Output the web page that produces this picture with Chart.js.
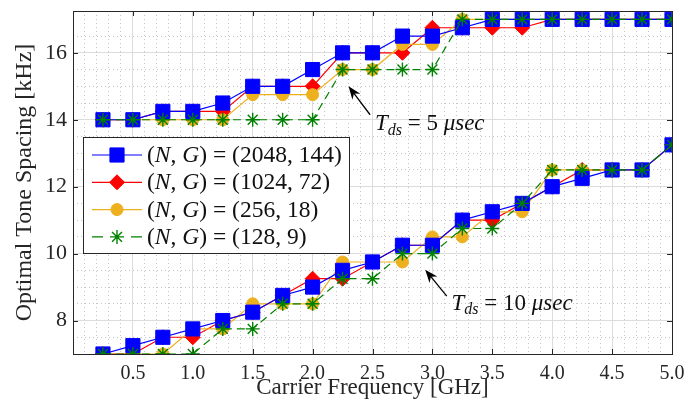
<!DOCTYPE html>
<html>
<head>
<meta charset="utf-8">
<script src="https://cdn.jsdelivr.net/npm/chart.js@4.4.0/dist/chart.umd.min.js"></script>
<style>
  html, body { margin: 0; padding: 0; background: #fff; }
  #wrap { width: 697px; height: 400px; }
</style>
</head>
<body>
<div id="wrap"><canvas id="chart" width="697" height="400"></canvas></div>
<script>
// carrier frequency samples [GHz]
const freqGHz = [0.25, 0.5, 0.75, 1, 1.25, 1.5, 1.75, 2, 2.25, 2.5, 2.75, 3, 3.25, 3.5, 3.75, 4, 4.25, 4.5, 4.75, 5];
const xTicks = [0.5, 1, 1.5, 2, 2.5, 3, 3.5, 4, 4.5, 5];
const yTicks = [8, 10, 12, 14, 16];

// legend entries (N, G)
const legendN = [2048, 1024, 256, 128];
const legendG = [144, 72, 18, 9];

// optimal tone spacing [kHz], T_ds = 5 usec
const ng2048_5us = [14, 14, 14.25, 14.25, 14.5, 15, 15, 15.5, 16, 16, 16.5, 16.5, 16.75, 17, 17, 17, 17, 17, 17, 17];
const ng1024_5us = [14, 14, 14.25, 14.25, 14.25, 15, 15, 15, 16, 16, 16, 16.75, 16.75, 16.75, 16.75, 17, 17, 17, 17, 17];
const ng256_5us  = [14, 14, 14, 14, 14, 14.75, 14.75, 14.75, 15.5, 15.5, 16.25, 16.25, 17, 17, 17, 17, 17, 17, 17, 17];
const ng128_5us  = [14, 14, 14, 14, 14, 14, 14, 14, 15.5, 15.5, 15.5, 15.5, 17, 17, 17, 17, 17, 17, 17, 17];

// optimal tone spacing [kHz], T_ds = 10 usec
const ng2048_10us = [7, 7.25, 7.5, 7.75, 8, 8.25, 8.75, 9, 9.5, 9.75, 10.25, 10.25, 11, 11.25, 11.5, 12, 12.25, 12.5, 12.5, 13.25];
const ng1024_10us = [7, 7, 7.5, 7.5, 8, 8.25, 8.75, 9.25, 9.25, 9.75, 10.25, 10.25, 11, 11, 11.5, 12, 12.5, 12.5, 12.5, 13.25];
const ng256_10us  = [7, 7, 7, 7.75, 7.75, 8.5, 8.5, 8.5, 9.75, 9.75, 9.75, 10.5, 10.5, 11.25, 11.25, 12.5, 12.5, 12.5, 12.5, 13.25];
const ng128_10us  = [7, 7, 7, 7, 7.75, 7.75, 8.5, 8.5, 9.25, 9.25, 10, 10, 10.75, 10.75, 11.5, 12.5, 12.5, 12.5, 12.5, 13.25];

const SERIF = "'Liberation Serif', 'DejaVu Serif', serif";
const INK = '#262626';

const styles = [
    { color: '#0000ff', pointStyle: 'rect', radius: 10, dash: [], order: 2 },
    { color: '#ff0000', pointStyle: 'rectRot', radius: 7.5, dash: [], order: 4 },
    { color: '#edb120', pointStyle: 'circle', radius: 6, dash: [], order: 3 },
    { color: '#008000', pointStyle: 'star', radius: 7, dash: [8, 5], order: 1 }
];

function makeSet(values, s) {
    return {
        data: values.map((v, i) => ({ x: freqGHz[i], y: v })),
        borderColor: s.color,
        backgroundColor: s.color,
        borderWidth: 1.2,
        borderDash: s.dash,
        pointStyle: s.pointStyle,
        pointRadius: s.radius,
        pointHoverRadius: s.radius,
        pointBackgroundColor: s.color,
        pointBorderColor: s.color,
        pointBorderWidth: s.pointStyle === 'star' ? 1.4 : 1,
        order: s.order,
        tension: 0,
        fill: false
    };
}

const sets5 = [ng2048_5us, ng1024_5us, ng256_5us, ng128_5us];
const sets10 = [ng2048_10us, ng1024_10us, ng256_10us, ng128_10us];
const datasets = [];
sets5.forEach((vals, i) => datasets.push(makeSet(vals, styles[i])));
sets10.forEach((vals, i) => datasets.push(makeSet(vals, styles[i])));

// box around plot with inward tick marks
const framePlugin = {
    id: 'frame',
    beforeDatasetsDraw(chart) {
        const { ctx, chartArea: a, scales } = chart;
        ctx.save();
        ctx.strokeStyle = INK;
        ctx.lineWidth = 1;
        ctx.setLineDash([]);
        ctx.strokeRect(Math.round(a.left) + 0.5, Math.round(a.top) + 0.5,
            Math.round(a.right - a.left), Math.round(a.bottom - a.top));
        ctx.beginPath();
        xTicks.forEach(v => {
            const px = Math.round(scales.x.getPixelForValue(v)) + 0.5;
            ctx.moveTo(px, a.bottom); ctx.lineTo(px, a.bottom - 5);
            ctx.moveTo(px, a.top); ctx.lineTo(px, a.top + 5);
        });
        yTicks.forEach(v => {
            const py = Math.round(scales.y.getPixelForValue(v)) + 0.5;
            ctx.moveTo(a.left, py); ctx.lineTo(a.left + 5, py);
            ctx.moveTo(a.right, py); ctx.lineTo(a.right - 5, py);
        });
        ctx.stroke();
        ctx.restore();
    }
};

// draw a run of text pieces: [text, italic, size, dy]
function drawPieces(ctx, pieces, x, y) {
    let cx = x;
    pieces.forEach(([t, it, size, dy]) => {
        ctx.font = (it ? 'italic ' : '') + size + 'px ' + SERIF;
        ctx.fillText(t, cx, y + (dy || 0));
        cx += ctx.measureText(t).width;
    });
}

const legendPlugin = {
    id: 'boxLegend',
    afterDraw(chart) {
        const ctx = chart.ctx;
        const bx = 83, by = 137, bw = 266, bh = 116;
        ctx.save();
        ctx.fillStyle = '#fff';
        ctx.fillRect(bx, by, bw, bh);
        ctx.strokeStyle = INK;
        ctx.lineWidth = 1;
        ctx.strokeRect(bx + 0.5, by + 0.5, bw, bh);
        legendN.forEach((n, i) => {
            const s = styles[i];
            const y = by + 18 + i * 27.3;
            ctx.strokeStyle = s.color;
            ctx.fillStyle = s.color;
            ctx.lineWidth = 1.2;
            ctx.setLineDash(s.dash.length ? [11, 28] : []);
            ctx.beginPath();
            ctx.moveTo(bx + 9, y);
            ctx.lineTo(bx + 59, y);
            ctx.stroke();
            ctx.setLineDash([]);
            ctx.lineWidth = s.pointStyle === 'star' ? 1.4 : 1;
            Chart.helpers.drawPoint(ctx, { pointStyle: s.pointStyle, radius: s.radius, borderWidth: ctx.lineWidth, rotation: 0 }, bx + 34, y);
            ctx.fillStyle = '#111';
            ctx.textBaseline = 'middle';
            drawPieces(ctx, [['(', false, 23.5], ['N', true, 23.5], [', ', false, 23.5], ['G', true, 23.5],
                [') = (' + n + ', ' + legendG[i] + ')', false, 23.5]], bx + 64, y + 1);
        });
        ctx.restore();
    }
};

const notes = [
    { head: [2.3, 15.0], tail: [2.48, 14.15], at: [2.52, 13.86], value: '5' },
    { head: [2.94, 9.52], tail: [3.12, 8.73], at: [3.16, 8.5], value: '10' }
];

const notePlugin = {
    id: 'notes',
    afterDraw(chart) {
        const { ctx, scales } = chart;
        ctx.save();
        notes.forEach(nt => {
            const hx = scales.x.getPixelForValue(nt.head[0]), hy = scales.y.getPixelForValue(nt.head[1]);
            const tx = scales.x.getPixelForValue(nt.tail[0]), ty = scales.y.getPixelForValue(nt.tail[1]);
            const ang = Math.atan2(hy - ty, hx - tx);
            ctx.strokeStyle = '#000';
            ctx.fillStyle = '#000';
            ctx.lineWidth = 1.3;
            ctx.beginPath();
            ctx.moveTo(tx, ty);
            ctx.lineTo(hx - 8 * Math.cos(ang), hy - 8 * Math.sin(ang));
            ctx.stroke();
            ctx.beginPath();
            ctx.moveTo(hx, hy);
            ctx.lineTo(hx - 13 * Math.cos(ang) + 5 * Math.sin(ang), hy - 13 * Math.sin(ang) - 5 * Math.cos(ang));
            ctx.lineTo(hx - 9 * Math.cos(ang), hy - 9 * Math.sin(ang));
            ctx.lineTo(hx - 13 * Math.cos(ang) - 5 * Math.sin(ang), hy - 13 * Math.sin(ang) + 5 * Math.cos(ang));
            ctx.closePath();
            ctx.fill();
            ctx.fillStyle = '#111';
            ctx.textBaseline = 'middle';
            drawPieces(ctx, [['T', true, 23], ['ds', true, 16, 6], [' = ' + nt.value + ' ', false, 23], ['\u03bcsec', true, 23]],
                scales.x.getPixelForValue(nt.at[0]), scales.y.getPixelForValue(nt.at[1]));
        });
        ctx.restore();
    }
};

// keep tick labels from shrinking the plot area
function noPad(a) {
    a.paddingTop = 0; a.paddingBottom = 0; a.paddingLeft = 0; a.paddingRight = 0;
}

new Chart(document.getElementById('chart'), {
    type: 'line',
    data: { datasets: datasets },
    options: {
        responsive: false,
        animation: false,
        devicePixelRatio: 1,
        layout: { padding: { top: 7, right: 25, left: 0, bottom: 0 } },
        plugins: { legend: { display: false }, tooltip: { enabled: false } },
        scales: {
            xMinor: {
                type: 'linear', position: 'bottom', min: 0, max: 5,
                ticks: { display: false, stepSize: 0.1 },
                afterBuildTicks: a => { a.ticks = a.ticks.filter(t => Math.abs(t.value * 2 - Math.round(t.value * 2)) > 1e-6); },
                grid: { color: '#c4c4c4', drawTicks: false, lineWidth: 1 },
                border: { display: false, dash: [1, 3] },
                afterFit: a => { a.height = 0; noPad(a); }
            },
            yMinor: {
                type: 'linear', position: 'left', min: 7, max: 17.25,
                ticks: { display: false, stepSize: 0.5 },
                afterBuildTicks: a => { a.ticks = a.ticks.filter(t => Math.abs(t.value / 2 - Math.round(t.value / 2)) > 1e-6); },
                grid: { color: '#c4c4c4', drawTicks: false, lineWidth: 1 },
                border: { display: false, dash: [1, 3] },
                afterFit: a => { a.width = 0; noPad(a); }
            },
            x: {
                type: 'linear', position: 'bottom', min: 0, max: 5,
                afterBuildTicks: a => { a.ticks = xTicks.map(v => ({ value: v })); },
                ticks: { font: { family: SERIF, size: 20 }, color: INK, padding: 8, maxRotation: 0, autoSkip: false },
                grid: { color: '#dcdcdc', drawTicks: false, lineWidth: 1 },
                border: { display: false },
                title: { display: true, text: 'Carrier Frequency [GHz]', color: INK,
                    font: { family: SERIF, size: 23, lineHeight: 1 }, padding: { top: 0, bottom: 1 } },
                afterFit: a => { a.height = 46; noPad(a); }
            },
            y: {
                type: 'linear', position: 'left', min: 7, max: 17.25,
                afterBuildTicks: a => { a.ticks = yTicks.map(v => ({ value: v })); },
                ticks: { font: { family: SERIF, size: 22 }, color: INK, padding: 6 },
                grid: { color: '#dcdcdc', drawTicks: false, lineWidth: 1 },
                border: { display: false },
                title: { display: true, text: 'Optimal Tone Spacing [kHz]', color: INK,
                    font: { family: SERIF, size: 24, lineHeight: 1 }, padding: { top: 13, bottom: 0 } },
                afterFit: a => { a.width = 73; noPad(a); }
            }
        }
    },
    plugins: [framePlugin, legendPlugin, notePlugin]
});
</script>
</body>
</html>
